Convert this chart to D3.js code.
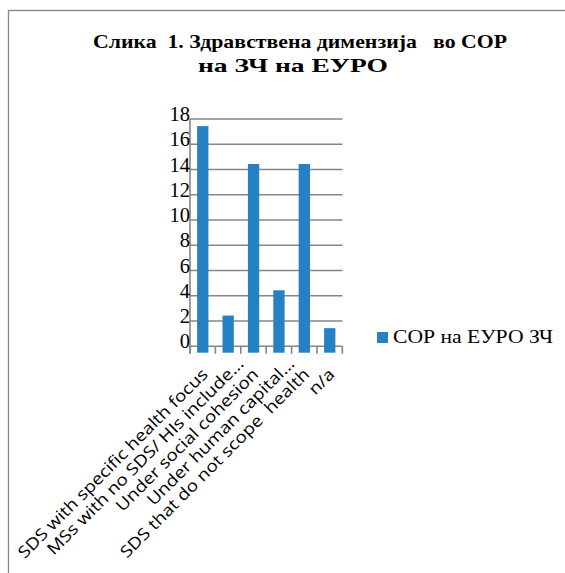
<!DOCTYPE html>
<html>
<head>
<meta charset="utf-8">
<script src="https://cdn.jsdelivr.net/npm/d3@7"></script>
<style>
  html, body { margin: 0; padding: 0; background: #fff; }
  svg { display: block; }
</style>
</head>
<body>
<svg id="chart" width="565" height="573"></svg>
<script>
// ---- data ----
const titleLines = ["Слика  1. Здравствена димензија   во СОР", "на ЗЧ на ЕУРО"];
const categories = [
  "SDS with specific health focus",
  "MSs with no SDS/ HIs include...",
  "Under social cohesion",
  "Under human capital...",
  "SDS that do not scope  health",
  "n/a"
];
const seriesName = "СОР на ЕУРО ЗЧ";
const values = [17, 2, 14, 4, 14, 1];
const yTicks = [0, 2, 4, 6, 8, 10, 12, 14, 16, 18];

// ---- layout ----
const svg = d3.select("#chart");
const gridColor = "#868686";
const barColor = "#2681c4";
const serif = "Liberation Serif, Times New Roman, serif";
const sans = "Open Sans, sans-serif";

// outer frame (runs past the right/bottom edges as in the reference)
svg.append("rect")
  .attr("x", 8.5).attr("y", 10.5)
  .attr("width", 700).attr("height", 700)
  .attr("fill", "none").attr("stroke", gridColor).attr("stroke-width", 1.3);

// title
const titleSpec = [
  { x: 93, y: 47.5, w: 414 },
  { x: 198, y: 71.5, w: 190 }
];
svg.append("g").selectAll("text").data(titleLines).join("text")
  .attr("x", (d, i) => titleSpec[i].x)
  .attr("y", (d, i) => titleSpec[i].y)
  .attr("textLength", (d, i) => titleSpec[i].w)
  .attr("lengthAdjust", "spacingAndGlyphs")
  .attr("font-family", serif)
  .attr("font-weight", "bold")
  .attr("font-size", 19)
  .attr("fill", "#000")
  .style("white-space", "pre")
  .text(d => d);

const x = d3.scaleBand().domain(categories).range([190, 342.5]).paddingInner(0.555).paddingOuter(0.28);
const y = d3.scaleLinear().domain([0, 18]).range([346.3, 119]);

// gridlines
svg.append("g").selectAll("line").data(yTicks).join("line")
  .attr("x1", 190).attr("x2", 342.5)
  .attr("y1", d => y(d)).attr("y2", d => y(d))
  .attr("stroke", gridColor).attr("stroke-width", 1.6);

// y axis line
svg.append("line")
  .attr("x1", 190).attr("x2", 190)
  .attr("y1", y(18)).attr("y2", y(0) + 7.5)
  .attr("stroke", gridColor).attr("stroke-width", 1.6);

// category boundary ticks
const step = x.step();
const bounds = d3.range(categories.length + 1).map(i => x.range()[0] + i * step);
svg.append("g").selectAll("line").data(bounds).join("line")
  .attr("x1", d => d).attr("x2", d => d)
  .attr("y1", y(0)).attr("y2", y(0) + 7.5)
  .attr("stroke", gridColor).attr("stroke-width", 1.6);

// bars (drawn slightly taller than their value, as in the reference rendering)
const padTop = 5.5, padBottom = 6.4;
svg.append("g").selectAll("rect").data(values).join("rect")
  .attr("x", (d, i) => x(categories[i]))
  .attr("width", x.bandwidth())
  .attr("y", d => y(d) - padTop)
  .attr("height", d => y(0) - y(d) + padTop + padBottom)
  .attr("fill", barColor);

// y tick labels
svg.append("g").selectAll("text").data(yTicks).join("text")
  .attr("x", 190).attr("y", d => y(d) + 2)
  .attr("text-anchor", "end")
  .attr("font-family", serif)
  .attr("font-size", 20.5)
  .attr("fill", "#000")
  .text(d => d);

// category labels: rotated -45deg, stretched along the baseline, end-anchored under
// each category; a trailing ellipsis hangs past the anchor
const labelSize = 16.3, labelStretch = 1.16;
const probe = svg.append("text").attr("font-family", sans).attr("font-size", labelSize)
  .style("white-space", "pre").text("...");
const ellW = probe.node().getComputedTextLength();
probe.remove();
svg.append("g").selectAll("text").data(categories).join("text")
  .attr("transform", d => `translate(${x(d) + x.bandwidth() / 2 + 6},${y(0) + 29}) rotate(-45) scale(${labelStretch},1)`)
  .attr("dx", d => d.endsWith("...") ? ellW : 0)
  .attr("text-anchor", "end")
  .attr("font-family", sans)
  .attr("font-size", labelSize)
  .attr("fill", "#000")
  .style("white-space", "pre")
  .text(d => d);

// legend
svg.append("rect").attr("x", 377).attr("y", 332).attr("width", 11).attr("height", 11).attr("fill", barColor);
svg.append("text")
  .attr("x", 393).attr("y", 342.5)
  .attr("font-family", serif)
  .attr("font-size", 18)
  .attr("textLength", 160).attr("lengthAdjust", "spacingAndGlyphs")
  .attr("fill", "#000")
  .text(seriesName);
</script>
</body>
</html>
